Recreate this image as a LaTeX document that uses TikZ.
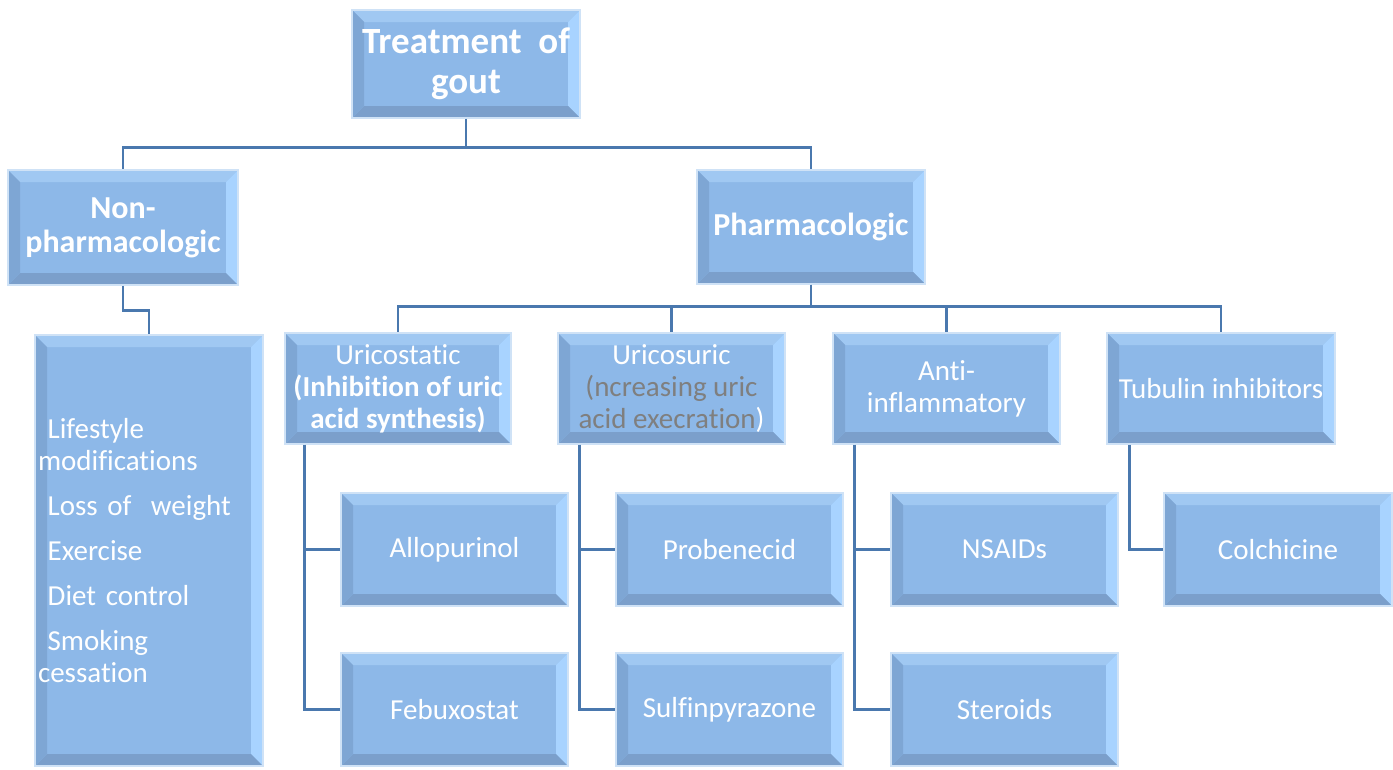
\documentclass[tikz,border=0pt]{standalone}
\usepackage{fontspec}
\setmainfont{Carlito}[Ligatures=NoCommon]
\definecolor{boxfill}{HTML}{8DB8E8}
\definecolor{bvtop}{HTML}{A0C8F2}
\definecolor{bvright}{HTML}{A8D3FF}
\definecolor{bvbot}{HTML}{7B9FCB}
\definecolor{bvleft}{HTML}{7EA6D4}
\definecolor{glow}{HTML}{CFE2F6}
\definecolor{linkblue}{HTML}{4A78AE}
\definecolor{txtgray}{HTML}{7F7F7F}
\tikzset{
  bevel/.style={path picture={
      \coordinate (pa) at (path picture bounding box.north west);
      \coordinate (pb) at (path picture bounding box.north east);
      \coordinate (pc) at (path picture bounding box.south east);
      \coordinate (pd) at (path picture bounding box.south west);
      \fill[bvtop] (pa) -- (pb) -- ([shift={(-12pt,-12pt)}]pb) -- ([shift={(12pt,-12pt)}]pa) -- cycle;
      \fill[bvright] (pb) -- (pc) -- ([shift={(-12pt,12pt)}]pc) -- ([shift={(-12pt,-12pt)}]pb) -- cycle;
      \fill[bvbot] (pc) -- (pd) -- ([shift={(12pt,12pt)}]pd) -- ([shift={(-12pt,12pt)}]pc) -- cycle;
      \fill[bvleft] (pd) -- (pa) -- ([shift={(12pt,-12pt)}]pa) -- ([shift={(12pt,12pt)}]pd) -- cycle;
  }},
  gbox/.style={rectangle, bevel, fill=boxfill, draw=glow, line width=1.5pt,
    inner sep=0pt, align=center, text=white,
    minimum width=227pt, minimum height=113pt,
    font=\fontsize{29}{32}\selectfont},
  headbox/.style={gbox, font=\fontsize{32}{34}\selectfont\bfseries},
  link/.style={draw=linkblue, line width=2.6pt}
}
\begin{document}
\begin{tikzpicture}[x=1pt,y=-1pt]
  \useasboundingbox (0,0) rectangle (1393,769);
  % top levels
  \node[headbox, minimum width=228pt, minimum height=108pt,
        font=\fontsize{37}{40}\selectfont\bfseries] (treat) at (466,64) {\raisebox{-4pt}{Treatment\ \ of}\\\raisebox{-4pt}{gout}};
  \node[headbox, minimum width=230pt, minimum height=115pt] (nonph) at (123,227.5) {Non-\\pharmacologic};
  \node[headbox, minimum width=228pt, minimum height=114pt] (pharm) at (811,227) {Pharmacologic};
  \node[gbox, minimum width=228pt, minimum height=431pt, text width=222pt, align=left] (life) at (149,550.5)
    {\ Lifestyle\\modifications\\[13pt]\ Loss of\ \ weight\\[13pt]\ Exercise\\[13pt]\ Diet control\\[13pt]\ Smoking\\cessation};
  % drug classes
  \node[gbox, minimum width=226pt, minimum height=111pt] (ustat) at (398,388.5)
    {Uricostatic\\\textbf{(Inhibition of uric}\\\textbf{acid synthesis)}};
  \node[gbox, minimum width=227pt, minimum height=111pt] (usur) at (671.5,388.5)
    {Uricosuric\\\textcolor{txtgray}{(ncreasing uric}\\\textcolor{txtgray}{acid execration})};
  \node[gbox, minimum width=227pt, minimum height=111pt] (antif) at (946.5,388.5) {Anti-\\inflammatory};
  \node[gbox, minimum width=228pt, minimum height=111pt] (tubul) at (1221,388.5) {Tubulin inhibitors};
  % drugs
  \node[gbox] (allo) at (454.5,549.5) {Allopurinol};
  \node[gbox] (febu) at (454.5,709.5) {Febuxostat};
  \node[gbox] (prob) at (729.5,549.5) {Probenecid};
  \node[gbox] (sulf) at (729.5,709.5) {Sulfinpyrazone};
  \node[gbox] (nsaid) at (1004.5,549.5) {NSAIDs};
  \node[gbox] (ster) at (1004.5,709.5) {Steroids};
  \node[gbox, minimum width=228pt] (colch) at (1278,549.5) {Colchicine};
  % connectors
  \path[link] (treat.south) -- ++(0,29) -| (nonph.north);
  \path[link] (treat.south) -- ++(0,29) -| (pharm.north);
  \path[link] (nonph.south) -- ++(0,25) -| (life.north);
  \foreach \c in {ustat,usur,antif,tubul}
    \path[link] (pharm.south) -- ++(0,22) -| (\c.north);
  \path[link] ([xshift=20pt]ustat.south west) |- (allo.west);
  \path[link] ([xshift=20pt]ustat.south west) |- (febu.west);
  \path[link] ([xshift=22pt]usur.south west) |- (prob.west);
  \path[link] ([xshift=22pt]usur.south west) |- (sulf.west);
  \path[link] ([xshift=22pt]antif.south west) |- (nsaid.west);
  \path[link] ([xshift=22pt]antif.south west) |- (ster.west);
  \path[link] ([xshift=23pt]tubul.south west) |- (colch.west);
\end{tikzpicture}
\end{document}
